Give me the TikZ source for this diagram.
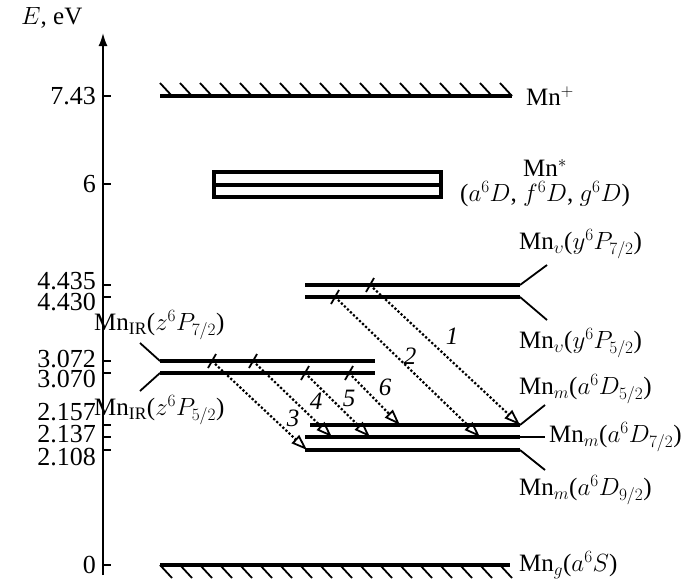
\documentclass[tikz,border=0pt]{standalone}
\usepackage{fontspec}
\setmainfont{Liberation Serif}
\usetikzlibrary{positioning}
\usetikzlibrary{arrows.meta}

\begin{document}
\begin{tikzpicture}
  [
    x = 1pt, y = -1pt,
    level/.style    = {line width=3.6pt},
    lead/.style     = {line width=1.8pt},
    trans/.style    = {dotted, line width=2.2pt, -{Triangle[open, length=16pt, width=11pt, line width=1.8pt]}},
    slash/.style    = {line width=1.8pt},
    lbl/.style      = {font=\fontsize{25}{28}\selectfont, inner sep=1pt},
    num/.style      = {font=\fontsize{25}{28}\selectfont\itshape, inner sep=1pt},
    tick/.style     = {font=\fontsize{26}{28}\selectfont, anchor=east, inner sep=1pt}
  ]
  \useasboundingbox (0,0) rectangle (685,584);
  % energy axis
  \draw[line width=1.8pt, -{Latex[length=13pt, width=9pt]}] (103,575) -- (103,33);
  \node[lbl, anchor=west] (axis) at (20,18) {$E$, eV};
  \foreach \y/\t/\ty in {96/7.43/96, 184/6/184, 285/4.435/281, 297/4.430/302,
                         361/3.072/359, 373/3.070/379, 425/2.157/412, 437/2.137/434, 450/2.108/457, 565/0/565}
  {
    \draw[lead] (103,\y) -- (111,\y);
    \node[tick] at (97,\ty) {\t};
  }
  % ionization limit and ground state
  \draw[level] (160,96) -- (512,96);
  \foreach \x in {172,192,...,512} \draw[lead] (\x-12,83) -- (\x,96);
  \node[lbl, anchor=west] (ion) at (525,96) {Mn$^{+}$};
  \draw[level] (160,565) -- (510,565);
  \foreach \x in {160,180,...,500} \draw[lead] (\x,565) -- (\x+12,578);
  \node[lbl, anchor=west] (gnd) at (518,565) {Mn$_{g}$($a^{6}S$)};
  % autoionizing band
  \draw[line width=3.6pt] (214,172) rectangle (441,197);
  \draw[line width=3.6pt] (214,185) -- (441,185);
  \node[lbl] (star) at (545,168) {Mn$^{*}$};
  \node[lbl] (starcfg) [below=2pt of star] {($a^{6}D$, $f^{6}D$, $g^{6}D$)};
  % upper levels
  \draw[level] (305,285) -- (520,285);
  \draw[lead] (520,285) -- (547,265);
  \node[lbl, anchor=west] (u7) at (518,244) {Mn$_{\upsilon}$($y^{6}P_{7/2}$)};
  \draw[level] (305,297) -- (520,297);
  \draw[lead] (520,297) -- (547,320);
  \node[lbl, anchor=west] (u5) at (518,343) {Mn$_{\upsilon}$($y^{6}P_{5/2}$)};
  % IR levels
  \draw[level] (160,361) -- (375,361);
  \draw[lead] (160,361) -- (140,343);
  \node[lbl, anchor=west] (ir7) at (93,325) {Mn$_{\mathrm{IR}}$($z^{6}P_{7/2}$)};
  \draw[level] (160,373) -- (375,373);
  \draw[lead] (160,373) -- (140,391);
  \node[lbl, anchor=west] (ir5) at (93,410) {Mn$_{\mathrm{IR}}$($z^{6}P_{5/2}$)};
  % metastable levels
  \draw[level] (310,425) -- (520,425);
  \draw[lead] (520,425) -- (545,405);
  \node[lbl, anchor=west] (m5) at (518,389) {Mn$_{m}$($a^{6}D_{5/2}$)};
  \draw[level] (305,437) -- (520,437);
  \draw[lead] (520,437) -- (545,437);
  \node[lbl, anchor=west] (m7) at (548,437) {Mn$_{m}$($a^{6}D_{7/2}$)};
  \draw[level] (305,450) -- (520,450);
  \draw[lead] (520,450) -- (545,470);
  \node[lbl, anchor=west] (m9) at (518,490) {Mn$_{m}$($a^{6}D_{9/2}$)};
  % transitions
  \coordinate (s1) at (370,285); \coordinate (e1) at (520,425);
  \coordinate (s2) at (335,297); \coordinate (e2) at (480,437);
  \coordinate (s3) at (212,361); \coordinate (e3) at (307,450);
  \coordinate (s4) at (253,361); \coordinate (e4) at (332,437);
  \coordinate (s5) at (305,373); \coordinate (e5) at (370,437);
  \coordinate (s6) at (349,373); \coordinate (e6) at (400,425);
  \foreach \i in {1,...,6}
  {
    \draw[slash] ([shift={(-4,7)}]s\i) -- ([shift={(4,-7)}]s\i);
    \draw[trans] (s\i) -- (e\i);
  }
  \node[num] (n1) at (452,336) {1};
  \node[num] (n2) at (410,356) {2};
  \node[num] (n3) at (293,418) {3};
  \node[num] (n4) at (316,401) {4};
  \node[num] (n5) at (349,398) {5};
  \node[num] (n6) at (385,387) {6};
\end{tikzpicture}
\end{document}
